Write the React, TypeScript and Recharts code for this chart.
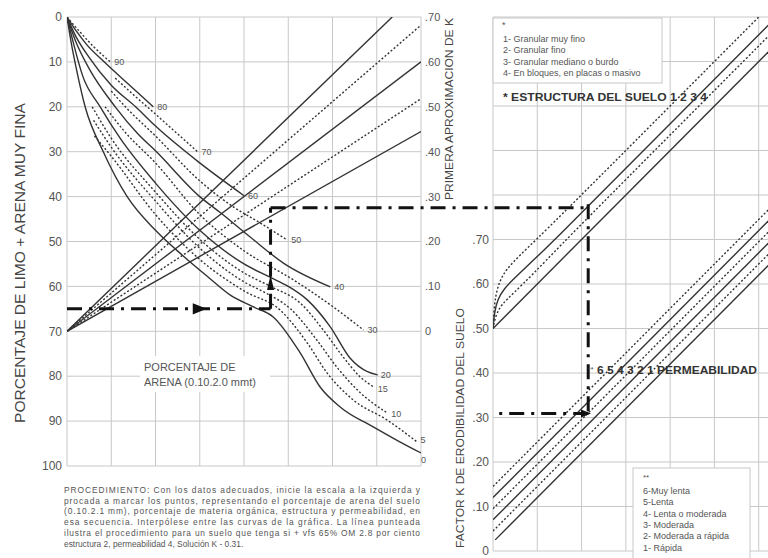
import React from 'react';
import { LineChart, Line, XAxis, YAxis, CartesianGrid, ReferenceLine, ReferenceDot } from 'recharts';

// ---------- LEFT PANEL DATA (x: grid columns 0..8, y: % limo + arena muy fina) ----------
const leftXTicks = [0, 1, 2, 3, 4, 5, 6, 7, 8];
const siltTicks = [0, 10, 20, 30, 40, 50, 60, 70, 80, 90, 100];
const kFirstTicks = [0, 0.1, 0.2, 0.3, 0.4, 0.5, 0.6, 0.7];

const sand90 = [[0, 0], [0.3, 3.4], [0.6, 6.6], [0.98, 10]];
const sand80 = [[0, 0], [0.2, 3], [0.45, 6.2], [0.82, 9.8], [1.36, 14.7], [1.95, 20]];
const sand70 = [[1.09, 13.6], [1.5, 17.3], [1.95, 21.2], [2.45, 25.6], [2.95, 30]];
const sand60 = [[0, 0], [0.2, 4.3], [0.5, 9], [1.0, 15.2], [1.55, 20], [2.0, 24.3], [3.0, 32.5], [4.0, 39.8]];
const sand50 = [[1.0, 16.5], [1.32, 20], [2.0, 26.5], [3.0, 36.5], [3.76, 42.3], [4.37, 45.9], [4.98, 49.7]];
const sand40 = [[0, 0], [0.2, 5.5], [0.5, 11.5], [1.09, 20], [1.6, 26], [2.0, 29.8], [3.0, 40], [3.47, 43.6], [4.14, 49], [4.89, 54.8], [5.95, 60.1]];
const sand30 = [[0.86, 20], [1.3, 25.5], [2.0, 32.5], [3.0, 44], [3.99, 52], [5.11, 58.5], [6.02, 64.6], [6.7, 69.7]];
const sand20 = [[0, 0], [0.15, 6], [0.35, 13], [0.75, 20], [1.2, 27], [2.0, 37], [3.0, 47.5], [4.0, 55], [4.6, 58], [5.0, 60], [5.43, 63], [5.95, 69], [6.4, 76], [6.79, 79], [7.02, 79.7]];
const sand15 = [[0.57, 20], [1.0, 27], [2.0, 39], [3.0, 49.5], [4.0, 57], [4.6, 60], [5.27, 63.7], [5.79, 69.7], [6.24, 75.7], [6.63, 80.2], [6.93, 82.4]];
const sand10 = [[0.6, 23], [1.0, 29], [2.0, 41], [3.0, 51.5], [4.0, 59], [4.5, 61.5], [5.05, 65], [5.65, 72], [6.1, 78], [6.63, 83.7], [7.24, 88.2]];
const sand5 = [[0.62, 26.5], [1.0, 31], [2.0, 44], [3.0, 54], [4.0, 61], [4.82, 65.3], [5.43, 72.6], [5.88, 79.3], [6.47, 85.3], [7.24, 89.8], [7.92, 94.7]];
const sand0 = [[0, 0], [0.1, 6], [0.2, 11], [0.41, 20], [0.82, 30], [1.36, 40], [2.0, 47.5], [2.6, 53], [3.2, 58], [3.7, 62], [4.2, 64.5], [4.66, 66.8], [5.27, 74.8], [5.72, 82.4], [6.18, 86.9], [6.92, 91.3], [7.5, 94.5], [8, 97.1]];

// organic-matter fan lines from the 70 % point
const om0 = [[0, 70], [7.35, 0]];
const om1 = [[0, 70], [8, 1.8]];
const om2 = [[0, 70], [8, 10]];
const om3 = [[0, 70], [8, 18.2]];
const om4 = [[0, 70], [8, 25.5]];

// example procedure path (left panel coords)
const procA = [[0, 65], [4.6, 65]];
const procB = [[4.6, 65], [4.6, 42.5]];
const procC = [[4.6, 42.5], [11.78, 42.5]];
const arrowRight = [3.0, 65];
const arrowUp = [4.6, 59];

// ---------- RIGHT PANEL DATA (x: grid columns, y: factor K) ----------
const rightXTicks = [0, 1, 2, 3, 4, 5, 6, 7];
const kTicks = [0, 0.1, 0.2, 0.3, 0.4, 0.5, 0.6, 0.7, 0.8, 0.9, 1.0, 1.1, 1.2];

const struct1 = [[0, 0.5], [0.02, 0.54], [0.06, 0.575], [0.15, 0.607], [0.3, 0.633], [0.6, 0.664], [1.0, 0.702], [1.5, 0.751], [2.5, 0.85], [6.0, 1.2]];
const struct2 = [[0, 0.5], [0.03, 0.535], [0.1, 0.565], [0.25, 0.59], [0.5, 0.615], [0.9, 0.652], [1.5, 0.71], [2.5, 0.81], [6.4, 1.2]];
const struct3 = [[0, 0.5], [0.06, 0.53], [0.2, 0.555], [0.45, 0.578], [0.9, 0.622], [1.5, 0.684], [2.5, 0.785], [6.65, 1.2]];
const struct4 = [[0, 0.5], [7, 1.2]];

const perm6 = [[0, 0.145], [7, 0.845]];
const perm5 = [[0, 0.12], [7, 0.82]];
const perm4 = [[0, 0.095], [7, 0.795]];
const perm3 = [[0, 0.07], [7, 0.77]];
const perm2 = [[0, 0.045], [7, 0.745]];
const perm1 = [[0.05, 0.025], [7, 0.72]];

const procD = [[2.15, 0.779], [2.15, 0.309]];
const procE = [[2.15, 0.309], [0, 0.309]];
const arrowK = [2.1, 0.309];

// ---------- TEXT ----------
const structLegend = ['1- Granular muy fino', '2- Granular fino', '3- Granular mediano o burdo', '4- En bloques, en placas o masivo'];
const permLegend = ['6-Muy lenta', '5-Lenta', '4- Lenta o moderada', '3- Moderada', '2- Moderada a rápida', '1- Rápida'];
const procLines = [
  'PROCEDIMIENTO: Con los datos adecuados, inicie la escala a la izquierda y',
  'procada a marcar los puntos, representando el porcentaje de arena del suelo',
  '(0.10.2.1 mm), porcentaje de materia orgánica, estructura y permeabilidad, en',
  'esa secuencia. Interpólese entre las curvas de la gráfica. La línea punteada',
  'ilustra el procedimiento para un suelo que tenga si + vfs 65% OM 2.8 por ciento',
  'estructura 2, permeabilidad 4, Solución K - 0.31.',
];

const toPts = (arr: number[][]) => arr.map(([x, y]) => ({ x, y }));
const seg = (arr: number[][]) => arr.map(([x, y]) => ({ x, y }));

const sandCurves = [
  { name: '90', d: sand90, dashed: true, dx: 4, dy: 3 },
  { name: '80', d: sand80, dashed: false, dx: 4, dy: 3 },
  { name: '70', d: sand70, dashed: true, dx: 4, dy: 3 },
  { name: '60', d: sand60, dashed: false, dx: 4, dy: 3 },
  { name: '50', d: sand50, dashed: true, dx: 4, dy: 3 },
  { name: '40', d: sand40, dashed: false, dx: 4, dy: 3 },
  { name: '30', d: sand30, dashed: true, dx: 4, dy: 3 },
  { name: '20', d: sand20, dashed: false, dx: 3, dy: 3 },
  { name: '15', d: sand15, dashed: true, dx: 4, dy: 5 },
  { name: '10', d: sand10, dashed: true, dx: 4, dy: 4 },
  { name: '5', d: sand5, dashed: true, dx: 3, dy: 1 },
  { name: '0', d: sand0, dashed: false, dx: 0, dy: 10 },
];
const omLines = [
  { name: 'om0', d: om0, dashed: false },
  { name: 'om1', d: om1, dashed: true },
  { name: 'om2', d: om2, dashed: false },
  { name: 'om3', d: om3, dashed: true },
  { name: 'om4', d: om4, dashed: false },
];
const structLines = [
  { name: 's1', d: struct1, dashed: true },
  { name: 's2', d: struct2, dashed: false },
  { name: 's3', d: struct3, dashed: true },
  { name: 's4', d: struct4, dashed: false },
];
const permLines = [
  { name: 'p6', d: perm6, dashed: true },
  { name: 'p5', d: perm5, dashed: false },
  { name: 'p4', d: perm4, dashed: true },
  { name: 'p3', d: perm3, dashed: false },
  { name: 'p2', d: perm2, dashed: true },
  { name: 'p1', d: perm1, dashed: false },
];

const LINE = '#333';
const GRID = '#c8c8c8';
const TXT = '#555';
const PROC_DASH = '15 7 3 7';

const kFmt = (v: number) => (v === 0 ? '0' : v > 0.75 ? '' : '.' + String(Math.round(v * 100)).padStart(2, '0'));

const endLabel = (text: string, n: number, dx: number, dy: number) => (p: any) =>
  p.index === n - 1 ? (
    <text key={'l' + text} x={p.x + dx} y={p.y + dy} fontSize={9} fill={TXT}>
      {text}
    </text>
  ) : null;

const triRight = (s: number) => (p: any) => (
  <polygon points={`${p.cx - s},${p.cy - s * 0.8} ${p.cx + s},${p.cy} ${p.cx - s},${p.cy + s * 0.8}`} fill="#111" />
);
const triUp = (p: any) => (
  <polygon points={`${p.cx - 3.5},${p.cy + 8} ${p.cx},${p.cy - 7} ${p.cx + 3.5},${p.cy + 8}`} fill="#111" />
);

export default function App() {
  return (
    <div
      style={{
        position: 'absolute',
        left: 0,
        top: 0,
        width: 768,
        height: 558,
        overflow: 'hidden',
        background: '#fff',
        fontFamily: '"Liberation Sans", Arial, sans-serif',
      }}
    >
      {/* RIGHT PANEL */}
      <div style={{ position: 'absolute', left: 440, top: 0 }}>
        <LineChart width={363} height={558} margin={{ top: 17, right: 0, bottom: 7, left: 8 }}>
          <XAxis dataKey="x" type="number" domain={[0, 7]} ticks={rightXTicks} hide allowDataOverflow />
          <YAxis
            yAxisId="R"
            type="number"
            domain={[0, 1.2]}
            ticks={kTicks}
            tickFormatter={kFmt}
            width={45}
            axisLine={false}
            tickLine={false}
            tickSize={2}
            tickMargin={2}
            tick={{ fill: TXT, fontSize: 12 }}
            interval={0}
          />
          <CartesianGrid yAxisId="R" stroke={GRID} strokeWidth={1} />
          {structLines.map((s) => (
            <Line
              key={s.name}
              yAxisId="R"
              data={toPts(s.d)}
              dataKey="y"
              type={s.d.length > 2 ? 'basis' : 'linear'}
              stroke={LINE}
              strokeWidth={1.4}
              strokeDasharray={s.dashed ? '2 2' : undefined}
              dot={false}
              activeDot={false}
              isAnimationActive={false}
            />
          ))}
          {permLines.map((s) => (
            <Line
              key={s.name}
              yAxisId="R"
              data={toPts(s.d)}
              dataKey="y"
              type="linear"
              stroke={LINE}
              strokeWidth={1.4}
              strokeDasharray={s.dashed ? '2 2' : undefined}
              dot={false}
              activeDot={false}
              isAnimationActive={false}
            />
          ))}
          <ReferenceLine yAxisId="R" segment={seg(procD)} stroke="#111" strokeWidth={3} strokeDasharray={PROC_DASH} ifOverflow="visible" />
          <ReferenceLine yAxisId="R" segment={seg(procE)} stroke="#111" strokeWidth={3} strokeDasharray={PROC_DASH} ifOverflow="visible" />
          <ReferenceDot yAxisId="R" x={arrowK[0]} y={arrowK[1]} r={5} shape={triRight(5)} ifOverflow="visible" />
        </LineChart>
      </div>

      {/* LEFT PANEL */}
      <div style={{ position: 'absolute', left: 0, top: 0 }}>
        <LineChart width={600} height={480} margin={{ top: 17, right: 139, bottom: 14, left: 27 }}>
          <XAxis dataKey="x" type="number" domain={[0, 8]} ticks={leftXTicks} hide allowDataOverflow />
          <YAxis
            yAxisId="L"
            type="number"
            domain={[0, 100]}
            reversed
            ticks={siltTicks}
            width={40}
            axisLine={false}
            tickLine={false}
            tickSize={3}
            tickMargin={2}
            tick={{ fill: TXT, fontSize: 12 }}
            interval={0}
            allowDataOverflow
          />
          <YAxis
            yAxisId="K"
            orientation="right"
            type="number"
            domain={[-0.3, 0.7]}
            ticks={kFirstTicks}
            tickFormatter={kFmt}
            width={40}
            axisLine={false}
            tickLine={false}
            tickSize={2}
            tickMargin={2}
            tick={{ fill: TXT, fontSize: 11, textAnchor: 'start' }}
            interval={0}
            allowDataOverflow
          />
          <CartesianGrid yAxisId="L" stroke={GRID} strokeWidth={1} />
          {omLines.map((s) => (
            <Line
              key={s.name}
              yAxisId="L"
              data={toPts(s.d)}
              dataKey="y"
              type="linear"
              stroke={LINE}
              strokeWidth={1.4}
              strokeDasharray={s.dashed ? '2 2' : undefined}
              dot={false}
              activeDot={false}
              isAnimationActive={false}
            />
          ))}
          {sandCurves.map((s) => (
            <Line
              key={s.name}
              yAxisId="L"
              data={toPts(s.d)}
              dataKey="y"
              type="monotone"
              stroke={LINE}
              strokeWidth={1.4}
              strokeDasharray={s.dashed ? '2 2' : undefined}
              dot={false}
              activeDot={false}
              isAnimationActive={false}
              label={endLabel(s.name, s.d.length, s.dx, s.dy)}
            />
          ))}
          <ReferenceLine yAxisId="L" segment={seg(procA)} stroke="#111" strokeWidth={3} strokeDasharray={PROC_DASH} ifOverflow="visible" />
          <ReferenceLine yAxisId="L" segment={seg(procB)} stroke="#111" strokeWidth={3} strokeDasharray={PROC_DASH} ifOverflow="visible" />
          <ReferenceLine yAxisId="L" segment={seg(procC)} stroke="#111" strokeWidth={3} strokeDasharray={PROC_DASH} ifOverflow="visible" />
          <ReferenceDot yAxisId="L" x={arrowRight[0]} y={arrowRight[1]} r={6} shape={triRight(7)} ifOverflow="visible" />
          <ReferenceDot yAxisId="L" x={arrowUp[0]} y={arrowUp[1]} r={6} shape={triUp} ifOverflow="visible" />
        </LineChart>
      </div>

      {/* TEXT OVERLAY */}
      <svg width={768} height={558} style={{ position: 'absolute', left: 0, top: 0, pointerEvents: 'none' }}>
        {/* axis titles */}
        <text
          x={0}
          y={0}
          transform="translate(25,263) rotate(-90)"
          textAnchor="middle"
          fontSize={14.5}
          fill="#444"
          textLength={320}
          lengthAdjust="spacingAndGlyphs"
        >
          PORCENTAJE DE LIMO + ARENA MUY FINA
        </text>
        <text
          x={0}
          y={0}
          transform="translate(453,109) rotate(-90)"
          textAnchor="middle"
          fontSize={10.5}
          fill="#444"
          textLength={182}
          lengthAdjust="spacingAndGlyphs"
        >
          PRIMERA APROXIMACION DE K
        </text>
        <text
          x={0}
          y={0}
          transform="translate(464,428) rotate(-90)"
          textAnchor="middle"
          fontSize={11}
          fill="#444"
          textLength={240}
          lengthAdjust="spacingAndGlyphs"
        >
          FACTOR K DE ERODIBILIDAD DEL SUELO
        </text>

        {/* sand label */}
        <rect x={140} y={356} width={130} height={36} fill="#fff" />
        <text x={144} y={371} fontSize={11} fill={TXT}>PORCENTAJE DE</text>
        <text x={144} y={386} fontSize={11} fill={TXT}>ARENA (0.10.2.0 mmt)</text>

        {/* structure legend */}
        <rect x={493} y={18} width={169} height={65} fill="#fff" stroke={GRID} />
        <text x={502} y={28} fontSize={9} fill={TXT}>*</text>
        {structLegend.map((t, i) => (
          <text key={t} x={503} y={42 + i * 11.3} fontSize={9} fill={TXT}>
            {t}
          </text>
        ))}
        <text x={503} y={101} fontSize={10.5} fontWeight="bold" fill="#333" textLength={204} lengthAdjust="spacingAndGlyphs">
          * ESTRUCTURA DEL SUELO 1 2 3 4
        </text>

        {/* permeability */}
        <text x={588} y={372} fontSize={7} fill={TXT}>**</text>
        <text x={597} y={374} fontSize={10.5} fontWeight="bold" fill="#333" textLength={160} lengthAdjust="spacingAndGlyphs">
          6 5 4 3 2 1 PERMEABILIDAD
        </text>
        <rect x={633} y={468} width={117} height={92} fill="#fff" stroke={GRID} />
        <text x={643} y={480} fontSize={8} fill={TXT}>**</text>
        {permLegend.map((t, i) => (
          <text key={t} x={643} y={494 + i * 11.3} fontSize={9} fill={TXT}>
            {t}
          </text>
        ))}

        {/* procedure paragraph */}
        {procLines.map((t, i) => (
          <text
            key={i}
            x={64}
            y={493 + i * 10.7}
            fontSize={8.4}
            fill="#555"
            textLength={i < procLines.length - 1 ? 356 : undefined}
            lengthAdjust="spacing"
          >
            {t}
          </text>
        ))}
      </svg>
    </div>
  );
}
